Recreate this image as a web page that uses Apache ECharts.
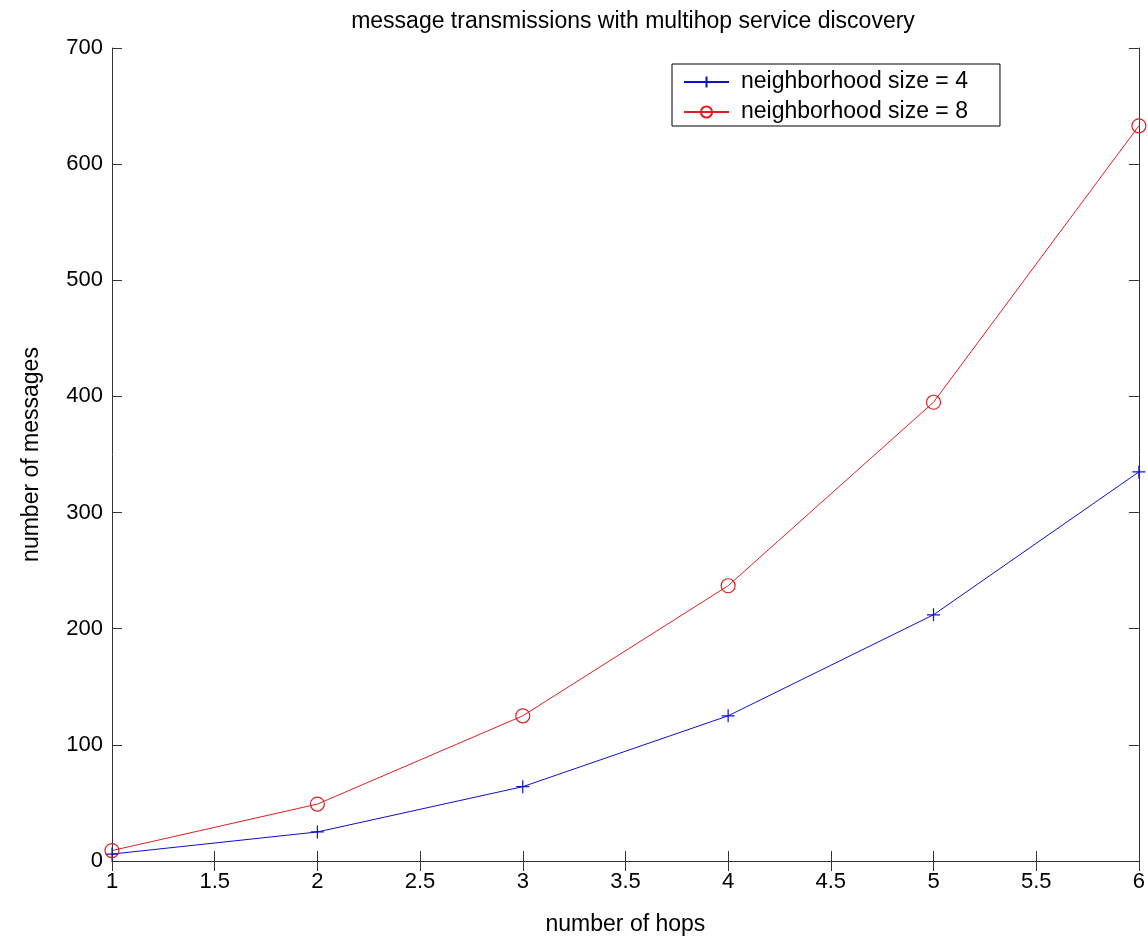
<!DOCTYPE html>
<html>
<head>
<meta charset="utf-8">
<script src="https://cdn.jsdelivr.net/npm/echarts@6/dist/echarts.min.js"></script>
<style>
  html, body { margin: 0; padding: 0; background: #fff; }
  #chart { width: 1148px; height: 941px; }
</style>
</head>
<body>
<div id="chart"></div>
<script>
// values
const hops = [1, 2, 3, 4, 5, 6]
const size4 = [6, 25, 64, 125, 212, 335]
const size8 = [9, 49, 125, 237, 395, 633]

const font = 'Liberation Sans, Arial, sans-serif'
const axisColor = '#333'
const blue = '#1010c8'
const red = '#dd2020'

const pairs = (ys) => hops.map((x, i) => [x, ys[i]])

// ticks drawn inside on all four sides, like the original box plot
const tickStyle = { show: true, inside: true, length: 10, lineStyle: { color: axisColor } }
const lineStyle = { lineStyle: { color: axisColor, width: 1 } }

const chart = echarts.init(document.getElementById('chart'))
chart.setOption({
  animation: false,
  backgroundColor: '#fff',
  textStyle: { fontFamily: font },
  title: {
    text: 'message transmissions with multihop service discovery',
    left: 628,
    textAlign: 'center',
    top: 5,
    textStyle: { fontFamily: font, fontSize: 23, fontWeight: 'normal', color: '#000' }
  },
  grid: { left: 112, right: 6, top: 48, bottom: 80 },
  legend: {
    orient: 'vertical',
    left: 672,
    top: 64,
    backgroundColor: '#fff',
    borderColor: '#000',
    borderWidth: 1,
    borderRadius: 0,
    padding: [5, 32, 1, 11],
    itemWidth: 45,
    itemHeight: 14,
    itemGap: 4,
    textStyle: { fontFamily: font, fontSize: 23, color: '#000', lineHeight: 26, padding: [0, 0, 0, 7] }
  },
  xAxis: [
    {
      type: 'value', min: 1, max: 6, interval: 0.5,
      name: 'number of hops', nameLocation: 'middle', nameGap: 52,
      nameTextStyle: { fontFamily: font, fontSize: 23, color: '#000' },
      axisLine: lineStyle, axisTick: tickStyle, splitLine: { show: false },
      axisLabel: { fontFamily: font, fontSize: 22, color: '#000', margin: 10 }
    },
    {
      type: 'value', min: 1, max: 6, interval: 0.5, position: 'top',
      axisLine: lineStyle, axisTick: tickStyle, splitLine: { show: false },
      axisLabel: { show: false }
    }
  ],
  yAxis: [
    {
      type: 'value', min: 0, max: 700, interval: 100,
      name: 'number of messages', nameLocation: 'middle', nameGap: 69,
      nameTextStyle: { fontFamily: font, fontSize: 23, color: '#000' },
      axisLine: { show: true, ...lineStyle }, axisTick: tickStyle, splitLine: { show: false },
      axisLabel: { fontFamily: font, fontSize: 22, color: '#000', margin: 9 }
    },
    {
      type: 'value', min: 0, max: 700, interval: 100, position: 'right',
      axisLine: { show: true, ...lineStyle }, axisTick: tickStyle, splitLine: { show: false },
      axisLabel: { show: false }
    }
  ],
  series: [
    {
      name: 'neighborhood size = 4',
      type: 'line',
      data: pairs(size4),
      clip: false,
      symbol: 'path://M5,0L5,10M0,5L10,5',
      symbolSize: 13,
      lineStyle: { color: blue, width: 1 },
      itemStyle: { color: blue, borderColor: blue, borderWidth: 1.2 }
    },
    {
      name: 'neighborhood size = 8',
      type: 'line',
      data: pairs(size8),
      clip: false,
      symbol: 'circle',
      symbolSize: 14,
      lineStyle: { color: red, width: 1 },
      itemStyle: { color: 'rgba(0,0,0,0)', borderColor: red, borderWidth: 1.2 }
    }
  ]
})
</script>
</body>
</html>
